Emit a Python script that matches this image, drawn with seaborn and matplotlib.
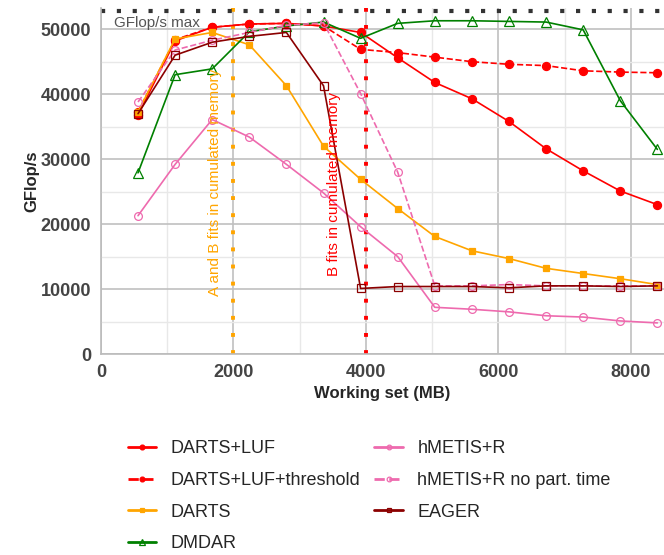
import numpy as np
import pandas as pd
import matplotlib
matplotlib.use("Agg")
import matplotlib.pyplot as plt
import seaborn as sns

# Données
working_set = [560, 1120, 1680, 2240, 2800, 3360, 3920, 4480, 5040,
               5600, 6160, 6720, 7280, 7840, 8400]

darts_luf = [36800, 48200, 50300, 50800, 50900, 50500, 49500, 45600, 41800,
             39300, 35800, 31600, 28200, 25100, 23000]
darts_luf_threshold = [37300, 48400, 50300, 50800, 50900, 50500, 46900, 46400,
                       45700, 45000, 44600, 44400, 43600, 43400, 43300]
darts = [37300, 48500, 49500, 47600, 41300, 32000, 26900, 22400, 18100,
         15900, 14700, 13200, 12400, 11600, 10700]
dmdar = [27900, 43000, 43900, 49600, 50500, 51100, 48600, 50900, 51300,
         51300, 51200, 51100, 49900, 39000, 31500]
hmetis_r = [21300, 29200, 36100, 33400, 29200, 24800, 19600, 15000, 7200,
            6900, 6500, 5900, 5700, 5100, 4800]
hmetis_r_nopart = [38800, 46800, 48300, 49500, 50600, 51000, 40100, 28000,
                   10500, 10500, 10700, 10500, 10500, 10500, 10500]
eager = [37000, 46000, 48000, 48900, 49500, 41300, 10100, 10400, 10400,
         10400, 10200, 10500, 10500, 10400, 10500]

gflops_max = 52800

series = [
    ("DARTS+LUF", darts_luf, "#ff0000", "-", "o", True, 5.8),
    ("DARTS+LUF+threshold", darts_luf_threshold, "#ff0000", "--", "o", True, 5.8),
    ("DARTS", darts, "#ffa500", "-", "s", True, 5.0),
    ("DMDAR", dmdar, "#008000", "-", "^", False, 6.6),
    ("hMETIS+R", hmetis_r, "#ee6aae", "-", "o", False, 5.6),
    ("hMETIS+R no part. time", hmetis_r_nopart, "#ee6aae", "--", "o", False, 5.6),
    ("EAGER", eager, "#8b0000", "-", "s", False, 5.4),
]

sns.set_theme(style="whitegrid")
plt.rcParams['font.family'] = ['Liberation Sans', 'DejaVu Sans']

fig = plt.figure(figsize=(6.64, 5.55), dpi=100)
ax = fig.add_axes([0.152, 0.362, 0.848, 0.624])

for name, values, color, ls, marker, filled, ms in series:
    df = pd.DataFrame({"x": working_set, "y": values})
    sns.lineplot(data=df, x="x", y="y", ax=ax, color=color, linestyle=ls,
                 linewidth=1.2, marker=marker, markersize=ms,
                 markerfacecolor=color if filled else "none",
                 markeredgecolor=color, markeredgewidth=0.9,
                 label=name, zorder=3)

# Lignes verticales de mémoire
ax.axvline(2000, color="#ffa500", linestyle=(0, (1, 3.4)), linewidth=2.8, zorder=2)
ax.axvline(4000, color="#ff0000", linestyle=(0, (1, 3.4)), linewidth=2.8, zorder=2)
ax.text(1720, 9000, "A and B fits in cumulated memory", rotation=90,
        color="#ffa500", fontsize=11, ha="center", va="bottom")
ax.text(3520, 12000, "B fits in cumulated memory", rotation=90,
        color="#ff0000", fontsize=11, ha="center", va="bottom")

# GFlop/s max
ax.axhline(gflops_max, color="#333333", linestyle=(0, (1, 2.8)), linewidth=3.0, zorder=2)
ax.text(200, gflops_max - 700, "GFlop/s max", color="#555555", fontsize=11,
        ha="left", va="top")

ax.set_xlim(0, 8500)
ax.set_ylim(0, 53300)
ax.set_xticks([0, 2000, 4000, 6000, 8000])
ax.set_xticks([1000, 3000, 5000, 7000], minor=True)
ax.set_yticks([0, 10000, 20000, 30000, 40000, 50000])
ax.set_yticks([5000, 15000, 25000, 35000, 45000], minor=True)
ax.grid(which="major", color="#c0c0c0", linewidth=1.2)
ax.grid(which="minor", color="#e8e8e8", linewidth=1.0)
for side in ["top", "right"]:
    ax.spines[side].set_visible(False)
for side in ["left", "bottom"]:
    ax.spines[side].set_color("#bbbbbb")
    ax.spines[side].set_linewidth(1.2)

ax.tick_params(axis="both", which="both", length=0, labelsize=13,
               labelcolor="#444444")
ax.tick_params(axis="y", pad=7)
ax.tick_params(axis="x", pad=7)
for lbl in ax.get_xticklabels() + ax.get_yticklabels():
    lbl.set_fontweight("bold")

ax.set_xlabel("Working set (MB)", fontsize=12, fontweight="bold", labelpad=4)
ax.set_ylabel("GFlop/s", fontsize=12, fontweight="bold", labelpad=1)

handles, labels = ax.get_legend_handles_labels()
ax.legend(handles, labels, loc="upper center", bbox_to_anchor=(0.556, 0.236),
          bbox_transform=fig.transFigure, ncol=2, frameon=False, fontsize=13,
          handlelength=1.6, handletextpad=0.8, columnspacing=0.75,
          labelspacing=0.81, markerscale=0.6)
for line in ax.get_legend().get_lines():
    line.set_linewidth(2.0)

fig.savefig("out.png", dpi=100)
